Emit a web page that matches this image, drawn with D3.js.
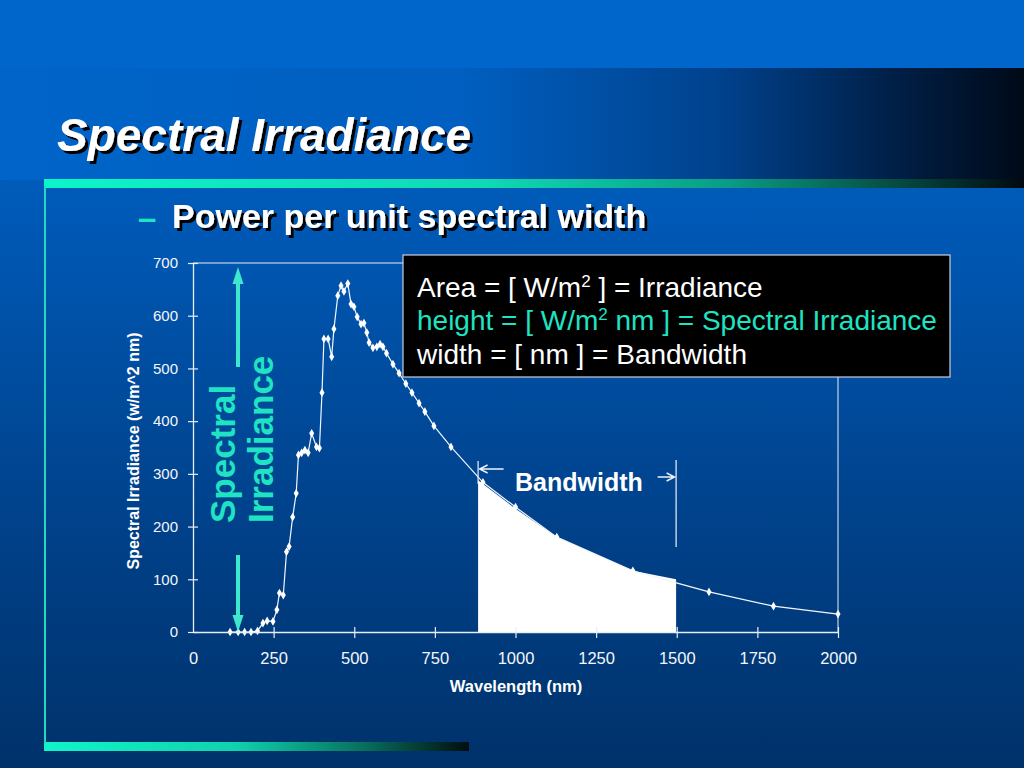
<!DOCTYPE html>
<html><head><meta charset="utf-8">
<script src="https://cdn.jsdelivr.net/npm/d3@7/dist/d3.min.js"></script>
<style>html,body{margin:0;padding:0;background:#003a78;overflow:hidden}svg{display:block}</style>
</head><body>
<svg id="c" width="1024" height="768"></svg>
<script>
// ---- data ----
const wavelengths = [115,140,160,180,200,217,230,248,260,268,280,290,298,309,320,327,337,347,357,368,383,392,400,406,419,430,437,449,459,468,480,490,499,509,521,530,539,546,558,570,580,589,600,620,639,660,679,701,719,747,800,899,1000,1128,1364,1600,1800,2000];
const irradiance  = [0,0,0,0,2,17,21,20,42,74,70,152,162,218,263,336,340,345,340,377,351,349,454,556,556,522,575,638,657,646,661,622,617,598,584,586,568,549,539,541,546,541,529,508,491,471,454,434,418,391,351,284,237,180,116,76,49,34];
const bandWavelengths = [884,1000,1128,1364,1498];
const bandTop = [288,234,180,116,100];
const xTicks = [0,250,500,750,1000,1250,1500,1750,2000];
const yTicks = [0,100,200,300,400,500,600,700];
const bandEdges = [884,1498];

const svg = d3.select("#c");
const FONT = "'Liberation Sans', Arial, Helvetica, sans-serif";
const CYAN = "#1fe3c2";
const defs = svg.append("defs");

function lin(id, x1,y1,x2,y2, stops){
  const g = defs.append("linearGradient").attr("id",id)
    .attr("x1",x1).attr("y1",y1).attr("x2",x2).attr("y2",y2);
  stops.forEach(s=>g.append("stop").attr("offset",s[0]).attr("stop-color",s[1]));
}
lin("bgV","0","0","0","1",[[0,"#0066cc"],[0.3,"#0058b4"],[0.7,"#004088"],[1,"#00326a"]]);
lin("titleH","0","0","1","0",[[0,"#0064c8"],[0.45,"#005fc0"],[0.7,"#00428e"],[0.88,"#001e44"],[1,"#000a18"]]);
lin("barTop","0","0","1","0",[[0,"#0cf5c8"],[0.45,"#10d9b4"],[0.7,"#0a9c84"],[0.88,"#06463e"],[1,"#000a10"]]);
lin("barBot","0","0","1","0",[[0,"#10f5c8"],[0.45,"#10d2ae"],[0.75,"#08705e"],[1,"#020e10"]]);
const sh = defs.append("filter").attr("id","shadow").attr("x","-5%").attr("y","-20%").attr("width","110%").attr("height","150%");
sh.append("feDropShadow").attr("dx",3).attr("dy",3).attr("stdDeviation",0.4).attr("flood-color","#000").attr("flood-opacity",1);

// background
svg.append("rect").attr("width",1024).attr("height",768).attr("fill","url(#bgV)");
svg.append("rect").attr("x",0).attr("y",68).attr("width",1024).attr("height",112).attr("fill","url(#titleH)");
svg.append("rect").attr("x",0).attr("y",0).attr("width",1024).attr("height",68).attr("fill","#0066cc");

// decorative bars
svg.append("rect").attr("x",44).attr("y",179).attr("width",980).attr("height",9).attr("fill","url(#barTop)");
svg.append("rect").attr("x",44).attr("y",742).attr("width",425).attr("height",9).attr("fill","url(#barBot)");
svg.append("rect").attr("x",44).attr("y",186).attr("width",2).attr("height",557).attr("fill","#22d8c0");

// title
function shadowText(txt, x, y, size, style){
  svg.append("text").attr("x",x).attr("y",y).text(txt)
    .attr("font-family",FONT).attr("font-size",size).attr("font-weight","bold")
    .attr("font-style",style||"normal").attr("fill","#fff").attr("filter","url(#shadow)");
}
shadowText("Spectral Irradiance", 57, 151, 46, "italic");
svg.append("text").attr("x",138).attr("y",229).text("–").attr("font-family",FONT)
  .attr("font-size",33).attr("font-weight","bold").attr("fill",CYAN);
shadowText("Power per unit spectral width", 172, 228, 34);

// ---- chart ----
const x = d3.scaleLinear().domain([0,2000]).range([193,838]);
const y = d3.scaleLinear().domain([0,700]).range([632,263]);

// frame (top and right)
svg.append("path").attr("fill","none").attr("stroke","#e8eef8").attr("stroke-width",1)
  .attr("d",`M${x(0)},${y(700)}H${x(2000)}V${y(0)}`);

// band fill
const area = d3.area().x((d,i)=>x(bandWavelengths[i])).y0(y(0)).y1((d,i)=>y(bandTop[i]));
svg.append("path").datum(bandTop).attr("d",area).attr("fill","#ffffff");

// data line
const pts = wavelengths.map((w,i)=>[w,irradiance[i]]);
svg.append("path").datum(pts).attr("fill","none").attr("stroke","#f2f6ff").attr("stroke-width",1.2)
  .attr("d", d3.line().x(d=>x(d[0])).y(d=>y(d[1])));
svg.append("g").selectAll("path").data(pts).join("path")
  .attr("transform",d=>`translate(${x(d[0])},${y(d[1])})`)
  .attr("d", d3.symbol().type(d3.symbolDiamond).size(22)).attr("fill","#ffffff");

// axes
const xAxis = svg.append("g").attr("transform",`translate(0,${y(0)})`)
  .call(d3.axisBottom(x).tickValues(xTicks).tickFormat(d3.format("d")).tickSize(6).tickSizeOuter(0).tickPadding(14));
const yAxis = svg.append("g").attr("transform",`translate(${x(0)},0)`)
  .call(d3.axisLeft(y).tickValues(yTicks).tickFormat(d3.format("d")).tickSize(5).tickSizeOuter(0).tickPadding(10));
[xAxis,yAxis].forEach(a=>{
  a.select(".domain").attr("stroke","#e8eef8").attr("stroke-width",1.3);
  a.selectAll(".tick line").attr("stroke","#e8eef8").attr("stroke-width",1.2);
  a.selectAll(".tick text").attr("fill","#f4f6fa").attr("font-family",FONT);
});
xAxis.selectAll(".tick line").attr("y1",-5);
yAxis.selectAll(".tick line").attr("x1",5);
xAxis.selectAll(".tick text").attr("font-size",16.5);
yAxis.selectAll(".tick text").attr("font-size",15);
xAxis.selectAll(".tick").filter(d=>d===0).select("line").attr("visibility","hidden");

svg.append("text").attr("x",516).attr("y",692).attr("text-anchor","middle")
  .attr("font-family",FONT).attr("font-size",16.5).attr("font-weight","bold").attr("fill","#fff")
  .text("Wavelength (nm)");
svg.append("text").attr("transform","translate(139,451) rotate(-90)").attr("text-anchor","middle")
  .attr("font-family",FONT).attr("font-size",16).attr("font-weight","bold").attr("fill","#fff")
  .text("Spectral Irradiance (w/m^2 nm)");

// Spectral Irradiance cyan annotation
svg.append("text").attr("transform","translate(235,523) rotate(-90)")
  .attr("font-family",FONT).attr("font-size",35).attr("font-weight","bold").attr("fill",CYAN).text("Spectral");
svg.append("text").attr("transform","translate(273,523) rotate(-90)")
  .attr("font-family",FONT).attr("font-size",35).attr("font-weight","bold").attr("fill",CYAN).text("Irradiance");
const AC = "#3ee8cf";
svg.append("line").attr("x1",238).attr("x2",238).attr("y1",367).attr("y2",280).attr("stroke",AC).attr("stroke-width",4);
svg.append("path").attr("d","M238,267L232.5,284L243.5,284Z").attr("fill",AC);
svg.append("line").attr("x1",238).attr("x2",238).attr("y1",555).attr("y2",618).attr("stroke",AC).attr("stroke-width",4);
svg.append("path").attr("d","M238,632L232.5,615L243.5,615Z").attr("fill",AC);

// bandwidth markers
const WL = "#eef2fa";
svg.append("line").attr("x1",x(bandEdges[0])).attr("x2",x(bandEdges[0])).attr("y1",461).attr("y2",484).attr("stroke",WL).attr("stroke-width",1.2);
svg.append("line").attr("x1",x(bandEdges[1])).attr("x2",x(bandEdges[1])).attr("y1",460).attr("y2",547).attr("stroke",WL).attr("stroke-width",1.2);
const lx = x(bandEdges[0])+1.5;
svg.append("path").attr("fill","none").attr("stroke",WL).attr("stroke-width",1.4)
  .attr("d",`M${lx+24},469H${lx}M${lx+8},465L${lx},469L${lx+8},473`);
const rx = x(bandEdges[1])-1.5;
svg.append("path").attr("fill","none").attr("stroke",WL).attr("stroke-width",1.4)
  .attr("d",`M${rx-17},477H${rx}M${rx-8},473L${rx},477L${rx-8},481`);
svg.append("text").attr("x",515).attr("y",491).attr("font-family",FONT).attr("font-size",25)
  .attr("font-weight","bold").attr("fill","#fff").text("Bandwidth");

// info box
svg.append("rect").attr("x",403).attr("y",255).attr("width",547).attr("height",122)
  .attr("fill","#000").attr("stroke","#c8d0dc").attr("stroke-width",1.2);
const lines = [
  {c:"#ffffff", parts:[["Area = [ W/m",0],["2",1],[" ] = Irradiance",0]]},
  {c:CYAN, parts:[["height = [ W/m",0],["2",1],[" nm ] = Spectral Irradiance",0]]},
  {c:"#ffffff", parts:[["width = [ nm ] = Bandwidth",0]]}
];
const baselines = [297,330,364];
lines.forEach((ln,i)=>{
  const t = svg.append("text").attr("x",417).attr("y",baselines[i]).attr("font-family",FONT)
    .attr("font-size",28).attr("fill",ln.c);
  ln.parts.forEach(([s,sup])=>{
    const ts = t.append("tspan").text(s);
    if (sup) ts.attr("font-size",17).attr("dy",-10);
    else if (t.selectAll("tspan").size()>1) ts.attr("dy",10);
  });
});
</script>
</body></html>
